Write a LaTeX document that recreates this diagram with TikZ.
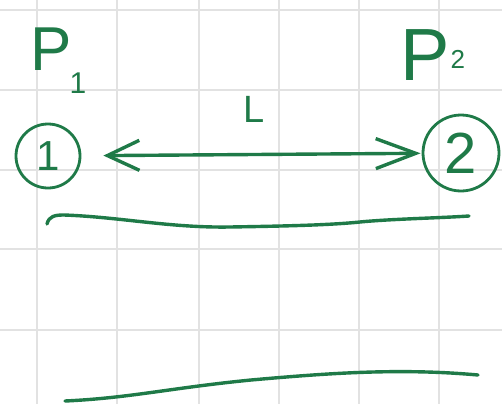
\documentclass[tikz,border=0pt]{standalone}
\usepackage{fontspec}
\setmainfont{Liberation Sans}
\usetikzlibrary{arrows.meta}
\definecolor{ink}{HTML}{1F7A48}
\definecolor{gridc}{HTML}{E2E2E2}
\tikzset{
  ink/.style={draw=ink, line width=3.4pt, line cap=round, line join=round},
  lbl/.style={text=ink, inner sep=0pt},
  ring/.style={ink, circle, inner sep=0pt, text=ink, line width=2.8pt}
}
\begin{document}
\begin{tikzpicture}[x=1pt,y=-1pt]
\useasboundingbox (0,0) rectangle (502,404);
\fill[white] (0,0) rectangle (502,404);
% grid
\foreach \gx in {37,117,199,279,359,439}
  \draw[gridc, line width=1.6pt] (\gx,0) -- (\gx,404);
\foreach \gy in {10,90,170,249,330}
  \draw[gridc, line width=1.6pt] (0,\gy) -- (502,\gy);
% labels
\node[lbl, anchor=base west] (p1) at (30,70) {\fontsize{62}{62}\selectfont P\kern-2pt\raisebox{-23pt}{\fontsize{30}{30}\selectfont 1}};
\node[lbl, anchor=base west] (p2) at (400,80) {\fontsize{74}{74}\selectfont P\kern1pt\raisebox{12pt}{\fontsize{26}{26}\selectfont 2}};
% circled nodes
\node[ring, minimum size=64pt, font=\fontsize{42}{42}\selectfont] (n1) at (48,156) {1};
\node[ring, minimum size=76pt, font=\fontsize{58}{58}\selectfont] (n2) at (461,153) {2};
% L label
\node[lbl, font=\fontsize{38}{38}\selectfont] (L) at (254,109) {L};
% connector
\draw[ink, {Straight Barb[length=32pt,width=30pt]}-{Straight Barb[length=40pt,width=30pt]}, shorten <=22pt, shorten >=1pt] (n1) -- (n2);
% lines
\draw[ink] (47,224) .. controls (49,216) and (55,215) .. (64,215)
  .. controls (120,217) and (170,228) .. (230,227)
  .. controls (290,226) and (330,225) .. (360,222)
  .. controls (390,219) and (440,218) .. (469,216);
\draw[ink] (65,401) .. controls (130,398) and (170,388) .. (251,380)
  .. controls (330,373) and (400,368) .. (478,375);
\end{tikzpicture}
\end{document}
